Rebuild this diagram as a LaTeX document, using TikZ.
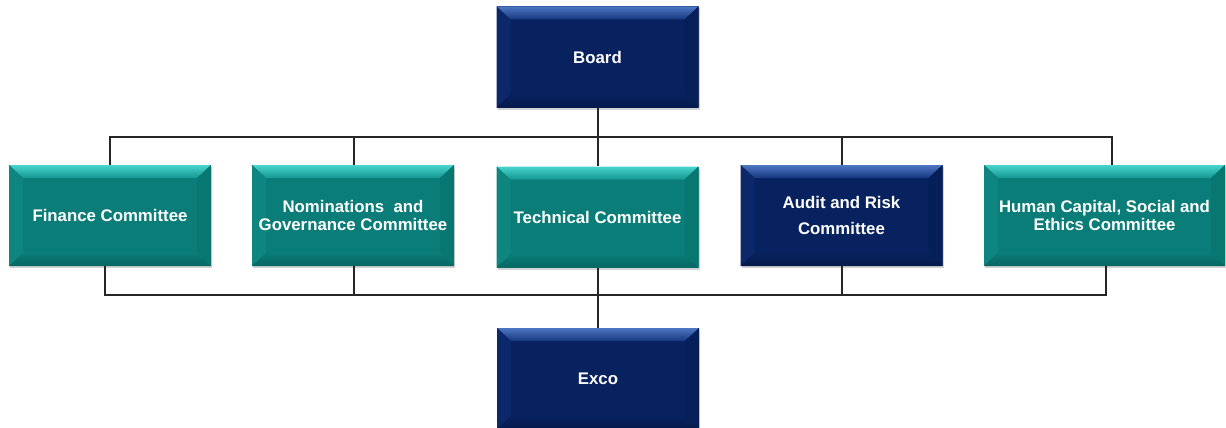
\documentclass[tikz,border=0pt]{standalone}
\usepackage{fontspec}
\setmainfont{Liberation Sans}
\usetikzlibrary{shadows}
\definecolor{navy}{HTML}{08225F}
\definecolor{navyTopA}{HTML}{4F76C2}
\definecolor{navyTopB}{HTML}{153780}
\definecolor{navyL}{HTML}{0C286A}
\definecolor{navyR}{HTML}{071F58}
\definecolor{teal}{HTML}{0A7D78}
\definecolor{tealTopA}{HTML}{48D4CE}
\definecolor{tealTopB}{HTML}{14968F}
\definecolor{tealL}{HTML}{0F857F}
\definecolor{tealR}{HTML}{087772}
\tikzset{
  bevel/.style n args={5}{
    path picture={
      \fill[#1] (path picture bounding box.south west) rectangle (path picture bounding box.north east);
      \shade[top color=#2, bottom color=#3]
        (path picture bounding box.north west) -- (path picture bounding box.north east)
        -- ([xshift=-14pt,yshift=-13pt]path picture bounding box.north east)
        -- ([xshift=14pt,yshift=-13pt]path picture bounding box.north west) -- cycle;
      \fill[#4]
        (path picture bounding box.north west) -- ([xshift=14pt,yshift=-13pt]path picture bounding box.north west)
        -- ([xshift=14pt,yshift=13pt]path picture bounding box.south west) -- (path picture bounding box.south west) -- cycle;
      \fill[#5]
        (path picture bounding box.north east) -- ([xshift=-14pt,yshift=-13pt]path picture bounding box.north east)
        -- ([xshift=-14pt,yshift=13pt]path picture bounding box.south east) -- (path picture bounding box.south east) -- cycle;
      \shade[top color=#1, bottom color=#5!85!black]
        (path picture bounding box.south west) -- ([xshift=14pt,yshift=13pt]path picture bounding box.south west)
        -- ([xshift=-14pt,yshift=13pt]path picture bounding box.south east) -- (path picture bounding box.south east) -- cycle;
    }},
  orgbox/.style={rectangle, minimum width=202pt, minimum height=101pt, inner sep=2pt,
    text=white, align=center, font=\bfseries\fontsize{16.8}{18.5}\selectfont,
    drop shadow={opacity=0.35, shadow xshift=1pt, shadow yshift=-2pt}},
  navybox/.style={orgbox, bevel={navy}{navyTopA}{navyTopB}{navyL}{navyR}},
  tealbox/.style={orgbox, bevel={teal}{tealTopA}{tealTopB}{tealL}{tealR}},
  conn/.style={draw=black!85, line width=1.5pt}
}
\begin{document}
\begin{tikzpicture}[x=1pt,y=-1pt]
\useasboundingbox (0,0) rectangle (1226,428);
\begin{scope}
\clip (0,0) rectangle (1226,428);
\coordinate (tbL) at (110,137);
\coordinate (tbR) at (1112,137);
\coordinate (bbL) at (105,295);
\coordinate (bbR) at (1106,295);
\coordinate (tbC) at (598,137);
\coordinate (bbC) at (598,295);
\coordinate (nomX) at (354,216);
\coordinate (audX) at (842,216);

\node[navybox] (board) at (597.5,57) {Board};
\node[tealbox] (fin) at (110,215.5) {Finance Committee};
\node[tealbox] (nom) at (353,215.5) {Nominations~ and\\Governance Committee};
\node[tealbox] (tech) at (597.5,217) {Technical Committee};
\node[navybox] (aud) at (841.5,215.5) {Audit and Risk\\[7pt]Committee};
\node[tealbox, minimum width=241pt] (hum) at (1104.5,215.5) {Human Capital, Social and\\Ethics Committee};
\node[navybox] (exco) at (598,378.5) {Exco};

\draw[conn] (board.south -| tbC) -- (tech.north -| tbC);
\draw[conn] (fin.north -| tbL) -- (tbL) -- (tbR) -- (hum.north -| tbR);
\draw[conn] (nom.north -| nomX) -- (nomX |- tbL);
\draw[conn] (aud.north -| audX) -- (audX |- tbL);
\draw[conn] (fin.south -| bbL) -- (bbL) -- (bbR) -- (hum.south -| bbR);
\draw[conn] (nom.south -| nomX) -- (nomX |- bbL);
\draw[conn] (aud.south -| audX) -- (audX |- bbL);
\draw[conn] (tech.south -| bbC) -- (exco.north -| bbC);
\end{scope}
\end{tikzpicture}
\end{document}
